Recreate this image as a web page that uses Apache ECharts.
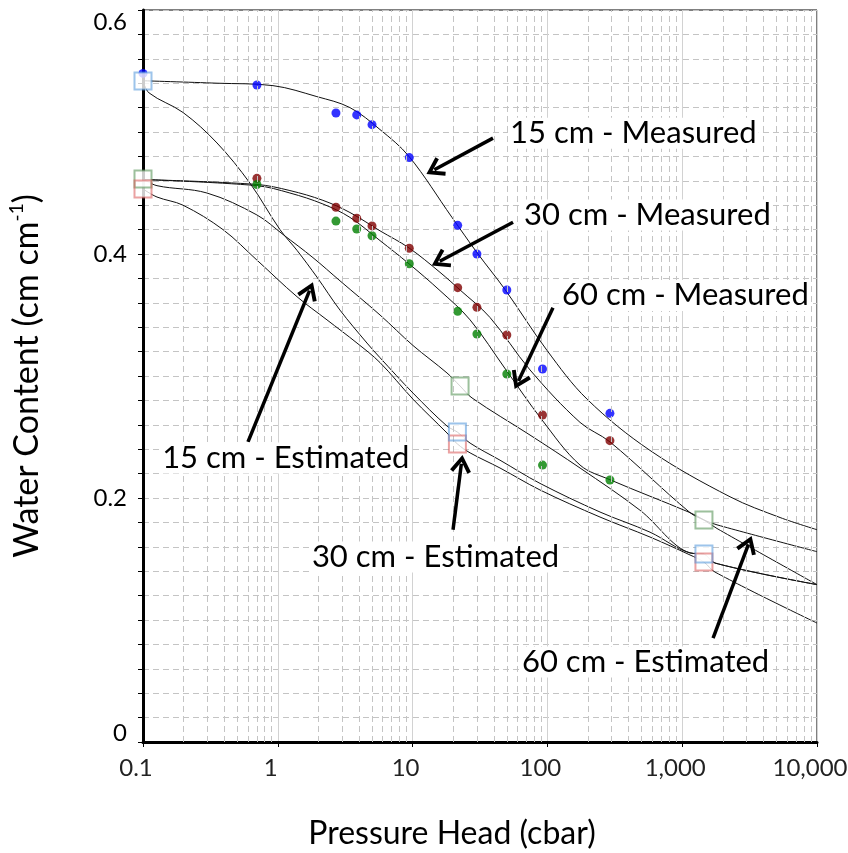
<!DOCTYPE html>
<html>
<head>
<meta charset="utf-8">
<script src="https://cdn.jsdelivr.net/npm/echarts@6/dist/echarts.min.js"></script>
<style>
  html, body { margin: 0; padding: 0; background: #fff; }
  #chart { width: 848px; height: 853px; }
</style>
</head>
<body>
<div id="chart"></div>
<script>
// x tick labels (log axis)
var xTickValues = [0.1, 1, 10, 100, 1000, 10000];
var xTickLabels = ["0.1", "1", "10", "100", "1,000", "10,000"];
var yTickValues = [0, 0.2, 0.4, 0.6];
var yTickLabels = ["0", "0.2", "0.4", "0.6"];

// minor vertical grid positions (2..9 in every decade)
var minorGridX = [0.2, 0.3, 0.4, 0.5, 0.6, 0.7, 0.8, 0.9,
  2, 3, 4, 5, 6, 7, 8, 9,
  20, 30, 40, 50, 60, 70, 80, 90,
  200, 300, 400, 500, 600, 700, 800, 900,
  2000, 3000, 4000, 5000, 6000, 7000, 8000, 9000];

// measured points
var m15X = [0.1, 0.7, 2.7, 3.85, 5.0, 9.45, 21.6, 30, 50, 92, 291];
var m15Y = [0.548, 0.5385, 0.5156, 0.514, 0.506, 0.479, 0.4235, 0.400, 0.3705, 0.3057, 0.2694];
var measuredX = [0.7, 2.7, 3.85, 5.0, 9.45, 21.6, 30, 50, 92, 291];
var m30Y = [0.462, 0.4383, 0.4293, 0.4230, 0.4047, 0.3724, 0.3563, 0.3336, 0.268, 0.247];
var m60Y = [0.457, 0.427, 0.4205, 0.415, 0.392, 0.353, 0.3344, 0.3016, 0.227, 0.2148];

// estimated points (squares)
var e15X = [0.1, 21.5, 1450];
var e15Y = [0.5418, 0.254, 0.154];
var e30X = [0.1, 21.5, 1450];
var e30Y = [0.4533, 0.2443, 0.1475];
var e60X = [0.1, 22.5, 1450];
var e60Y = [0.4615, 0.2918, 0.182];

// fitted curves
var cM15X = [0.1, 0.354, 0.921, 1.95, 3.43, 5.73, 9.4, 19.6, 30.1, 48.4, 99.3, 197, 577, 2263, 5321, 10000];
var cM15Y = [0.542, 0.540, 0.538, 0.529, 0.520, 0.502, 0.480, 0.430, 0.401, 0.371, 0.321, 0.281, 0.239, 0.201, 0.184, 0.174];

var cM30X = [0.1, 0.70, 1.23, 2.16, 3.43, 5.73, 9.40, 15.96, 22.5, 37.5, 74.3, 174.6, 291, 1143, 1450, 1812, 10000];
var cM30Y = [0.461, 0.457, 0.452, 0.444, 0.434, 0.419, 0.405, 0.385, 0.3705, 0.348, 0.305, 0.262, 0.246, 0.188, 0.182, 0.178, 0.156];

var cM60X = [0.1, 0.70, 1.23, 2.16, 3.43, 5.73, 9.40, 15.96, 26.7, 49.3, 91.2, 174.6, 291, 1143, 1450, 1812, 10000];
var cM60Y = [0.461, 0.456, 0.450, 0.441, 0.430, 0.411, 0.392, 0.370, 0.346, 0.305, 0.264, 0.227, 0.215, 0.188, 0.182, 0.175, 0.129];

var cE15X = [0.1, 0.111, 0.198, 0.354, 0.622, 1.038, 1.388, 1.954, 2.893, 4.589, 5.732, 10.07, 17.99, 21.5, 26.7, 44.5, 88.1, 245.6, 577, 1143, 1450, 1750, 10000];
var cE15Y = [0.542, 0.532, 0.516, 0.491, 0.458, 0.420, 0.403, 0.381, 0.354, 0.327, 0.315, 0.286, 0.259, 0.254, 0.245, 0.231, 0.212, 0.1885, 0.172, 0.155, 0.154, 0.1467, 0.129];

var cE30X = [0.1, 0.127, 0.198, 0.392, 0.70, 1.388, 2.317, 3.868, 5.732, 10.07, 17.99, 21.5, 26.7, 44.5, 88.1, 245.6, 577, 1143, 1450, 1750, 10000];
var cE30Y = [0.4533, 0.4467, 0.440, 0.420, 0.395, 0.365, 0.346, 0.327, 0.311, 0.281, 0.2533, 0.2443, 0.237, 0.2246, 0.2066, 0.1844, 0.168, 0.1533, 0.1475, 0.1393, 0.0975];

var cE60X = [0.1, 0.127, 0.298, 0.70, 1.093, 1.824, 2.893, 5.732, 10.07, 17.99, 22.5, 27.6, 74.3, 174.6, 486, 1143, 1450, 1750, 10000];
var cE60Y = [0.4615, 0.456, 0.450, 0.432, 0.416, 0.397, 0.378, 0.350, 0.325, 0.3025, 0.2918, 0.282, 0.2516, 0.2246, 0.190, 0.155, 0.154, 0.1467, 0.129];

// annotations
var noteTexts = ["15 cm - Measured", "30 cm - Measured", "60 cm - Measured",
  "15 cm - Estimated", "30 cm - Estimated", "60 cm - Estimated"];
var noteX = [51, 64.8, 124, 0.134, 1.73, 62.6];
var noteY = [0.499, 0.432, 0.366, 0.2328, 0.1516, 0.0656];
var arrowFrom = [[39.5, 0.495], [55.6, 0.426], [110, 0.356], [0.601, 0.246], [19.95, 0.174], [1694, 0.0852]];
var arrowTo = [[14.5, 0.469], [15.9, 0.394], [61, 0.296], [1.72, 0.370], [23.0, 0.228], [3100, 0.162]];

var FONT = "Lato";

function zip(xs, ys) {
  return xs.map(function (x, i) { return [x, ys[i]]; });
}

function curve(name, xs, ys) {
  return {
    name: name,
    type: "line",
    data: zip(xs, ys),
    smooth: 0.35,
    showSymbol: false,
    z: 2,
    lineStyle: { color: "#111", width: 1 },
    silent: true
  };
}

function dots(name, xs, ys, color) {
  return {
    name: name,
    type: "scatter",
    data: zip(xs, ys),
    symbol: "circle",
    symbolSize: 9,
    z: 3,
    itemStyle: { color: color }
  };
}

function squareFill(xs, ys) {
  return {
    type: "scatter",
    data: zip(xs, ys),
    symbol: "rect",
    symbolSize: 17,
    z: 4,
    silent: true,
    itemStyle: { color: "#fff" }
  };
}

function squareEdge(name, xs, ys, color) {
  return {
    name: name,
    type: "scatter",
    data: zip(xs, ys),
    symbol: "rect",
    symbolSize: 17,
    z: 5,
    itemStyle: { color: "rgba(255,255,255,0)", borderColor: color, borderWidth: 2 }
  };
}

var chart = echarts.init(document.getElementById("chart"));

var option = {
  backgroundColor: "#fff",
  animation: false,
  grid: {
    left: 143, right: 31, top: 10, bottom: 111,
    containLabel: false,
    outerBoundsMode: "none",
    show: true,
    borderColor: "#000",
    borderWidth: 1,
    backgroundColor: "#fff"
  },
  xAxis: {
    type: "log",
    logBase: 10,
    min: 0.1,
    max: 10000,
    name: "Pressure Head (cbar)",
    nameLocation: "middle",
    nameGap: 76,
    nameTextStyle: { fontFamily: FONT, fontSize: 32, color: "#000", padding: [0, 56, 0, 0] },
    axisLine: { show: true, onZero: false, lineStyle: { color: "#000", width: 3 } },
    axisTick: { show: true, length: 5, lineStyle: { color: "#000", width: 1 } },
    axisLabel: {
      fontFamily: FONT,
      fontSize: 24,
      color: "#222",
      margin: 14,
      padding: [0, 14, 0, 0],
      formatter: function (v) {
        for (var i = 0; i < xTickValues.length; i++) {
          if (Math.abs(Math.log10(v) - Math.log10(xTickValues[i])) < 1e-6) return xTickLabels[i];
        }
        return "";
      }
    },
    splitLine: { show: true, lineStyle: { color: "#d2d2d2", width: 1, type: "solid" } }
  },
  yAxis: {
    type: "value",
    min: 0,
    max: 0.6,
    interval: 0.02,
    name: "{t|Water Content (cm cm}{s|-1}{t|)}",
    nameLocation: "middle",
    nameRotate: 90,
    nameGap: 96,
    nameTextStyle: {
      rich: {
        t: { fontFamily: FONT, fontSize: 34, color: "#000", lineHeight: 40 },
        s: { fontFamily: FONT, fontSize: 19, color: "#000", lineHeight: 24, verticalAlign: "top" }
      }
    },
    axisLine: { show: true, onZero: false, lineStyle: { color: "#000", width: 3 } },
    axisTick: { show: true, length: 5, lineStyle: { color: "#000", width: 1 } },
    axisLabel: {
      fontFamily: FONT,
      fontSize: 24,
      color: "#000",
      margin: 16,
      formatter: function (v) {
        for (var i = 0; i < yTickValues.length; i++) {
          if (Math.abs(v - yTickValues[i]) < 1e-6) {
            if (i === 0) return "{lo|" + yTickLabels[i] + "}";
            if (i === yTickValues.length - 1) return "{hi|" + yTickLabels[i] + "}";
            return yTickLabels[i];
          }
        }
        return "";
      },
      rich: {
        lo: { fontFamily: FONT, fontSize: 24, color: "#000", padding: [0, 0, 18, 0] },
        hi: { fontFamily: FONT, fontSize: 24, color: "#000", padding: [24, 0, 0, 0] }
      }
    },
    splitLine: { show: true, lineStyle: { color: "#c4c4c4", width: 1, type: [6, 4] } }
  },
  series: [
    {
      // minor grid
      type: "line",
      data: [[0.1, 0]],
      showSymbol: false,
      lineStyle: { opacity: 0 },
      silent: true,
      z: 1,
      markLine: {
        silent: true,
        symbol: "none",
        label: { show: false },
        lineStyle: { color: "#c4c4c4", width: 1, type: [6, 4] },
        data: minorGridX.map(function (v) { return { xAxis: v }; })
      }
    },
    curve("15 cm fit", cM15X, cM15Y),
    curve("30 cm fit", cM30X, cM30Y),
    curve("60 cm fit", cM60X, cM60Y),
    curve("15 cm est fit", cE15X, cE15Y),
    curve("30 cm est fit", cE30X, cE30Y),
    curve("60 cm est fit", cE60X, cE60Y),
    dots("15 cm - Measured", m15X, m15Y, "#0000ff"),
    dots("30 cm - Measured", measuredX, m30Y, "#800000"),
    dots("60 cm - Measured", measuredX, m60Y, "#008000"),
    squareFill(e60X, e60Y),
    squareFill(e30X, e30Y),
    squareFill(e15X, e15Y),
    squareEdge("60 cm - Estimated", e60X, e60Y, "rgba(90,150,90,0.75)"),
    squareEdge("30 cm - Estimated", e30X, e30Y, "rgba(220,90,90,0.7)"),
    squareEdge("15 cm - Estimated", e15X, e15Y, "rgba(80,150,220,0.7)"),
    {
      // arrows and notes
      type: "line",
      data: [[0.1, 0]],
      showSymbol: false,
      lineStyle: { opacity: 0 },
      silent: true,
      z: 6,
      markLine: {
        silent: true,
        symbol: ["none", "path://M0,12 L7,0 L14,12 L11.8,13.6 L7,5.2 L2.2,13.6 Z"],
        symbolSize: [21, 18],
        label: { show: false },
        lineStyle: { color: "#000", width: 3.5, type: "solid" },
        data: arrowFrom.map(function (p, i) {
          return [{ coord: p }, { coord: arrowTo[i] }];
        })
      },
      markPoint: {
        silent: true,
        symbol: "rect",
        symbolSize: 0,
        data: noteTexts.map(function (t, i) {
          return {
            coord: [noteX[i], noteY[i]],
            label: {
              show: true,
              formatter: t,
              position: "right",
              distance: 0,
              fontFamily: FONT,
              fontSize: 31,
              color: "#000",
              backgroundColor: "#fff",
              padding: [0, 2, 0, 2]
            }
          };
        })
      }
    }
  ]
};

chart.setOption(option);
</script>
</body>
</html>
